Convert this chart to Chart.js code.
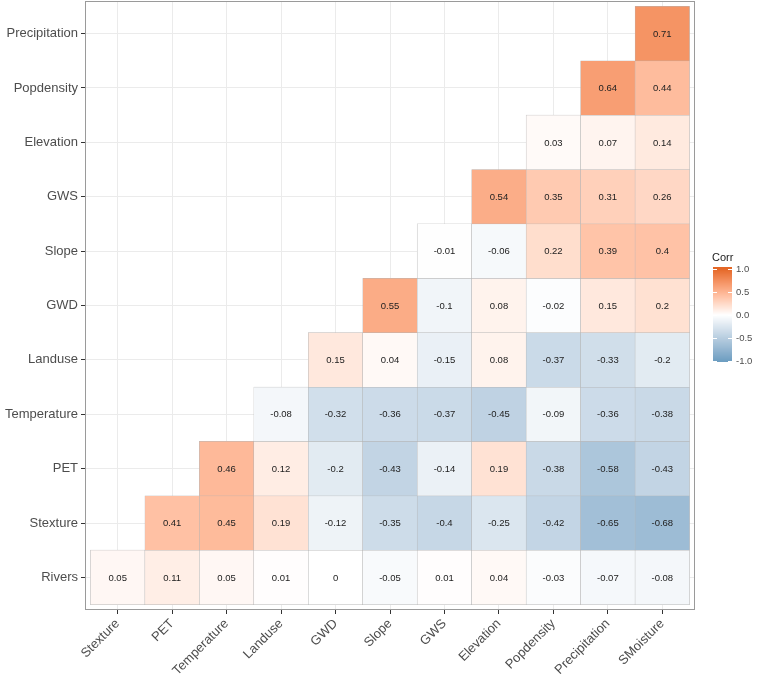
<!DOCTYPE html>
<html>
<head>
<meta charset="utf-8">
<script src="https://cdn.jsdelivr.net/npm/chart.js@4/dist/chart.umd.min.js"></script>
<style>
  body { margin: 0; background: #fff; }
</style>
</head>
<body>
<canvas id="corrChart" width="758" height="676"></canvas>
<script>
'use strict';

/* categories */
const colLabels = ['Stexture', 'PET', 'Temperature', 'Landuse', 'GWD', 'Slope', 'GWS', 'Elevation', 'Popdensity', 'Precipitation', 'SMoisture'];
const rowLabels = ['Rivers', 'Stexture', 'PET', 'Temperature', 'Landuse', 'GWD', 'Slope', 'GWS', 'Elevation', 'Popdensity', 'Precipitation'];

/* correlations, one list per row (row i starts at column i) */
const rivers        = [0.05, 0.11, 0.05, 0.01, 0, -0.05, 0.01, 0.04, -0.03, -0.07, -0.08];
const stexture      = [0.41, 0.45, 0.19, -0.12, -0.35, -0.4, -0.25, -0.42, -0.65, -0.68];
const pet           = [0.46, 0.12, -0.2, -0.43, -0.14, 0.19, -0.38, -0.58, -0.43];
const temperature   = [-0.08, -0.32, -0.36, -0.37, -0.45, -0.09, -0.36, -0.38];
const landuse       = [0.15, 0.04, -0.15, 0.08, -0.37, -0.33, -0.2];
const gwd           = [0.55, -0.1, 0.08, -0.02, 0.15, 0.2];
const slope         = [-0.01, -0.06, 0.22, 0.39, 0.4];
const gws           = [0.54, 0.35, 0.31, 0.26];
const elevation     = [0.03, 0.07, 0.14];
const popdensity    = [0.64, 0.44];
const precipitation = [0.71];

/* legend ticks */
const legendTicks = [1.0, 0.5, 0.0, -0.5, -1.0];

const rowValues = [rivers, stexture, pet, temperature, landuse, gwd, slope, gws, elevation, popdensity, precipitation];

/* colour scale: low / mid / high, interpolated in Lab like ggplot */
const lowCol = '#6D9EC1';
const midCol = '#FFFFFF';
const highCol = '#E46726';

function hexToRgb(h) {
    return [parseInt(h.slice(1, 3), 16), parseInt(h.slice(3, 5), 16), parseInt(h.slice(5, 7), 16)];
}
function toLab(hex) {
    const lin = hexToRgb(hex).map(c => {
        c /= 255;
        return c <= 0.04045 ? c / 12.92 : Math.pow((c + 0.055) / 1.055, 2.4);
    });
    const X = (0.4124 * lin[0] + 0.3576 * lin[1] + 0.1805 * lin[2]) / 0.95047;
    const Y = (0.2126 * lin[0] + 0.7152 * lin[1] + 0.0722 * lin[2]);
    const Z = (0.0193 * lin[0] + 0.1192 * lin[1] + 0.9505 * lin[2]) / 1.08883;
    const f = t => t > 0.008856 ? Math.cbrt(t) : 7.787 * t + 16 / 116;
    return [116 * f(Y) - 16, 500 * (f(X) - f(Y)), 200 * (f(Y) - f(Z))];
}
function fromLab(lab) {
    const fy = (lab[0] + 16) / 116;
    const fx = fy + lab[1] / 500;
    const fz = fy - lab[2] / 200;
    const inv = t => t * t * t > 0.008856 ? t * t * t : (t - 16 / 116) / 7.787;
    const X = 0.95047 * inv(fx), Y = inv(fy), Z = 1.08883 * inv(fz);
    const lin = [
        3.2406 * X - 1.5372 * Y - 0.4986 * Z,
        -0.9689 * X + 1.8758 * Y + 0.0415 * Z,
        0.0557 * X - 0.2040 * Y + 1.0570 * Z
    ];
    const rgb = lin.map(c => {
        c = c <= 0.0031308 ? 12.92 * c : 1.055 * Math.pow(c, 1 / 2.4) - 0.055;
        return Math.round(Math.min(1, Math.max(0, c)) * 255);
    });
    return 'rgb(' + rgb.join(',') + ')';
}
const labLow = toLab(lowCol), labMid = toLab(midCol), labHigh = toLab(highCol);
function fillFor(v) {
    const end = v >= 0 ? labHigh : labLow;
    const t = Math.min(1, Math.abs(v));
    return fromLab(labMid.map((m, i) => m + (end[i] - m) * t));
}

/* build tiles */
const tiles = [];
rowValues.forEach((vals, r) => {
    vals.forEach((v, k) => {
        tiles.push({ x: r + k, y: [r - 0.5, r + 0.5], v: v });
    });
});

const FONT = "'Liberation Sans', Arial, Helvetica, sans-serif";

/* numbers in the cells */
const cellLabels = {
    id: 'cellLabels',
    afterDatasetsDraw(chart) {
        const ctx = chart.ctx;
        const meta = chart.getDatasetMeta(0);
        ctx.save();
        ctx.font = '9.5px ' + FONT;
        ctx.fillStyle = '#222';
        ctx.textAlign = 'center';
        ctx.textBaseline = 'middle';
        meta.data.forEach((el, i) => {
            const cy = (el.y + el.base) / 2;
            ctx.fillText(String(tiles[i].v), el.x, cy + 0.5);
        });
        ctx.restore();
    }
};

/* panel border + colour bar legend */
const panelAndLegend = {
    id: 'panelAndLegend',
    afterDraw(chart) {
        const ctx = chart.ctx;
        const a = chart.chartArea;
        ctx.save();
        ctx.strokeStyle = '#9a9a9a';
        ctx.lineWidth = 1;
        ctx.strokeRect(a.left + 0.5, a.top + 0.5, a.right - a.left - 1, a.bottom - a.top - 1);

        const bx = 713, bw = 19, top = 267, bottom = 362;
        const zeroY = 315, unit = 46;
        for (let y = top; y < bottom; y++) {
            const v = (zeroY - (y + 0.5)) / unit;
            ctx.fillStyle = fillFor(Math.max(-1, Math.min(1, v)));
            ctx.fillRect(bx, y, bw, 1);
        }
        ctx.strokeStyle = '#fff';
        ctx.lineWidth = 1;
        legendTicks.forEach(t => {
            const y = Math.round(zeroY - t * unit) + 0.5;
            ctx.beginPath();
            ctx.moveTo(bx, y); ctx.lineTo(bx + 4, y);
            ctx.moveTo(bx + bw - 4, y); ctx.lineTo(bx + bw, y);
            ctx.stroke();
        });

        ctx.fillStyle = '#222';
        ctx.font = '11px ' + FONT;
        ctx.textAlign = 'left';
        ctx.textBaseline = 'alphabetic';
        ctx.fillText('Corr', 712, 261);

        ctx.fillStyle = '#4d4d4d';
        ctx.font = '9.5px ' + FONT;
        ctx.textBaseline = 'middle';
        legendTicks.forEach(t => {
            ctx.fillText(t.toFixed(1), 736, zeroY - t * unit);
        });
        ctx.restore();
    }
};

const ctx = document.getElementById('corrChart').getContext('2d');

const chart = new Chart(ctx, {
    type: 'bar',
    data: {
        datasets: [{
            data: tiles,
            backgroundColor: tiles.map(t => fillFor(t.v)),
            borderColor: '#b4b4b4',
            borderWidth: 0.5,
            borderSkipped: false,
            barPercentage: 1,
            categoryPercentage: 1
        }]
    },
    options: {
        responsive: false,
        animation: false,
        layout: { padding: { left: 0, right: 63, top: 1, bottom: 0 } },
        plugins: {
            legend: { display: false },
            tooltip: { enabled: false }
        },
        scales: {
            x: {
                type: 'linear',
                min: -0.6,
                max: 10.6,
                offset: false,
                afterBuildTicks: axis => { axis.ticks = colLabels.map((_, i) => ({ value: i })); },
                afterFit: s => { s.height = 66; s.paddingLeft = 0; s.paddingRight = 0; },
                border: { display: false },
                grid: { offset: false, color: '#ebebeb', lineWidth: 1, tickLength: 4, tickColor: '#333', tickWidth: 1 },
                ticks: {
                    autoSkip: false,
                    minRotation: 45,
                    maxRotation: 45,
                    padding: 2,
                    color: '#4d4d4d',
                    font: { family: FONT, size: 13 },
                    callback: v => colLabels[v]
                }
            },
            y: {
                type: 'linear',
                min: -0.6,
                max: 10.6,
                afterBuildTicks: axis => { axis.ticks = rowLabels.map((_, i) => ({ value: i })); },
                afterFit: s => { s.width = 85; s.paddingTop = 0; s.paddingBottom = 0; },
                border: { display: false },
                grid: { color: '#ebebeb', lineWidth: 1, tickLength: 4, tickColor: '#333', tickWidth: 1 },
                ticks: {
                    autoSkip: false,
                    padding: 3,
                    color: '#4d4d4d',
                    font: { family: FONT, size: 13 },
                    callback: v => rowLabels[v]
                }
            }
        }
    },
    plugins: [cellLabels, panelAndLegend]
});
</script>
</body>
</html>
